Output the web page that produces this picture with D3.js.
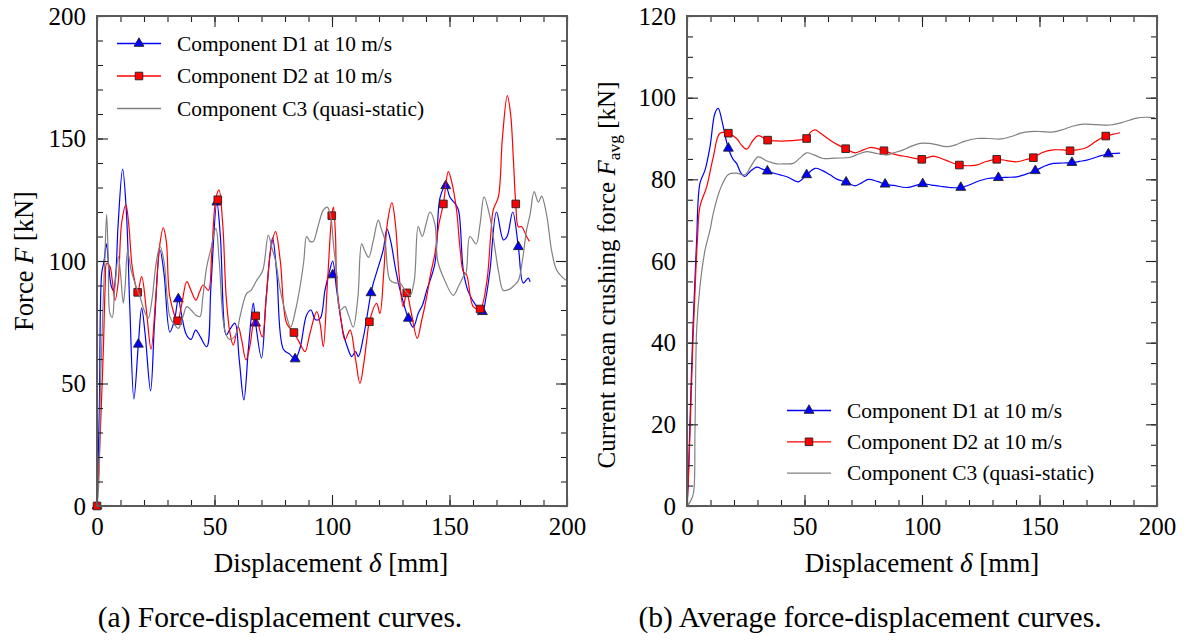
<!DOCTYPE html>
<html>
<head>
<meta charset="utf-8">
<script src="https://cdn.jsdelivr.net/npm/d3@7"></script>
<style>
body{margin:0;background:#fff}
svg text{font-family:"Liberation Serif","Times New Roman",serif;fill:#000}
</style>
</head>
<body>
<svg id="chart" width="1184" height="643"></svg>
<script>
// Panel (a): force-displacement, [displacement mm, force kN]
const forceD1 = [[0,0],[1,40],[2,95],[3,100],[4,107],[5,98],[6,90],[7,88],[8,95],[9,115],[10.9,137.5],[12.5,120],[14,80],[15.7,43.7],[17.6,66],[19,80.8],[20.5,70],[22.8,47],[24.5,75],[26.8,104.5],[28.5,95],[31,71],[33,76],[34.6,84.5],[36,78],[38,70],[40,68],[42,71.8],[44,69],[46.7,65],[48.5,90],[51,124],[52.5,110],[55,69.8],[56.5,72],[58.7,74.6],[60.5,60],[62.5,43.3],[64.5,65],[66.5,82.8],[67.5,74.6],[70,60.4],[72,85],[74.7,109.5],[76.5,95],[79.3,64],[82,62],[84.3,60],[86.4,64.5],[89.2,78],[91,80],[93,76],[95,76.6],[97,88],[99,96],[100.3,100],[102,88],[104.8,70.6],[106.5,65],[108.4,61],[110,63],[111.2,61],[113.3,68.6],[116.6,87],[117.6,91],[119.5,97],[121.8,104.5],[123.4,113],[125,108],[127,97],[129,88],[132.5,76.6],[134.6,73],[136.7,78.7],[138.5,82],[140.3,88],[143.8,99],[146,126],[148.4,130.7],[150.2,126],[152.3,123.5],[153.8,120.8],[155.9,96],[158,87.5],[161.6,81.4],[164,79.3],[165.5,85],[167.2,96],[170,120],[172.9,108.6],[174.5,110],[176.9,120],[179.3,105.8],[181.4,91],[183.5,93],[184.3,91.5]]
const forceD2 = [[0,0],[1,20],[2,45],[2.7,63.7],[3.5,90],[4.1,99],[5.5,97.7],[6.5,92],[7.7,84],[9,91],[10.5,115.5],[12.3,122.9],[13.5,115],[14.8,99],[16,92],[17.3,87.2],[19,93.6],[21,80],[23,64],[25,85],[26.5,105],[28.2,113.5],[29.5,108],[31,85.4],[34.3,75.6],[36,82],[38.2,91.6],[40,88],[42.1,84],[43.5,87],[45.2,90.2],[47.4,88],[48.8,103],[50.5,125],[51.9,129],[53.5,115],[55,85],[56.6,70.6],[58,65.7],[60.1,73.2],[61.5,68],[63.4,59.6],[65,65],[66.5,74.6],[67.5,77.6],[70.3,69],[72,85],[74,105],[76,112],[78,100],[80.7,74.6],[83.8,70.8],[86,67],[88.5,63],[90.5,70],[93.5,79.3],[95,74],[96.3,65],[98,90],[99.9,118.5],[100.6,122],[101.5,110],[102,91],[104,75],[105.5,67.8],[107.7,71.8],[110,60],[111.9,50],[113.5,58],[114.8,67.8],[115.9,75.2],[119,82.7],[120.4,78.6],[122,95],[123.5,115],[125.5,123.7],[127,115],[128.5,95],[130.3,81.4],[131.8,87],[133.5,80],[136.3,68.4],[138,75],[140.3,85.4],[142,95],[143.8,103],[145.5,115],[147.4,123.3],[149.5,136.5],[151,132],[153,120.8],[154.5,105],[155.9,95.6],[157.3,94.3],[160.1,81.4],[163,80.4],[165.8,91],[167.5,110],[168.6,120.8],[170.8,126.2],[172.5,150],[174.6,167.5],[176,160],[177.2,141.2],[178.2,123.3],[179.3,114],[180.7,114],[182.8,110],[184,108]]
const forceC3 = [[0,0],[0.8,10],[1.5,50],[2.5,80],[3.3,100],[4.1,119],[4.8,100],[5.5,78.6],[6.5,77],[7.5,88],[9.1,101.8],[10,95],[11.2,82.8],[12,90],[13,104],[14.6,96],[16.5,90],[18.3,85.4],[20,80],[21.8,76.7],[23.5,85],[25,98],[26.8,106],[28.5,100],[31,77.3],[33,74],[34.6,72.5],[36.5,77],[38.2,81.4],[40,80],[42,78],[43.8,77.3],[45,85],[46.7,97.7],[48.5,105],[50.6,113.3],[52,100],[54.5,71.2],[56.5,68],[59,69.8],[61,78],[63.7,86.8],[65.5,88],[68,92.2],[70.5,96],[72.9,110.6],[74.5,105],[76,100],[78,88],[80.7,77.3],[82.4,73],[84.5,80],[86.4,89.5],[88,100],[89.2,110],[90.6,108],[92,108],[94,114],[96.3,120.8],[98,122],[99.5,118],[100.6,107],[102,95],[103.4,80],[105.5,81.4],[107,78],[109,73],[111,85],[112.6,107],[114,104],[115.6,101.5],[117.5,108],[119.7,116.7],[121,113],[122.5,108.6],[124.7,92.2],[127,91],[129,91],[131,88],[133.2,86],[135,92],[136.7,114],[138.4,110],[140,115],[141.7,120],[143.8,115],[145,100],[148,92],[151.6,86],[154,90],[155.9,93.6],[157,95],[158.7,110],[161.3,107],[163,115],[164.7,126.2],[167.2,118],[169.5,104],[171,95],[172.9,88],[175.7,88.6],[177.5,90],[179.3,92],[181,100],[182.8,112.6],[184.3,119],[186,128.3],[187.8,124],[189.2,126.5],[191.3,119],[193.5,104],[195.6,96.3],[198.4,93],[200,92]]
const markD1 = [[0,0],[17.6,66],[34.6,84.5],[51,124],[67.5,74.6],[84.3,60],[100.3,94.3],[116.6,87],[132.5,76.6],[148.4,130.7],[164,79.3],[179.3,105.8]]
const markD2 = [[0,0],[17.3,87.2],[34.3,75.6],[51.4,125],[67.5,77.6],[83.8,70.8],[99.9,118.5],[115.9,75.2],[131.8,87],[147.4,123.3],[163,80.4],[178.2,123.3]]

// Panel (b): current mean crushing force
const avgD1 = [[0,0],[0.5,6],[1.5,25],[2.5,43],[3.5,57],[4.1,65],[5.5,79],[7.7,82.3],[9.8,88],[11.9,96.2],[13.3,97.4],[14.8,94.5],[16.5,90],[17.6,87.6],[19.5,85],[21.1,83.9],[23,81.5],[24.7,80.7],[27,82],[29.7,83],[32,82.5],[34.2,82],[37,81.5],[39.6,81.1],[43,80.5],[47.4,79.4],[50.9,81.1],[54.5,82.7],[57.5,82.2],[60.9,81.1],[64,80],[67.7,79.3],[71.5,78.4],[74.5,79.2],[77.2,80],[81,79.5],[84.3,78.8],[88,78.5],[93.5,78],[100.3,78.9],[104,78.6],[107.7,78.3],[112,78],[116.5,78],[120,78.6],[123.3,79.4],[128,80.2],[132.5,80.4],[136,80.5],[140.3,80.6],[144,81.2],[148.2,82.1],[152,83.2],[155.9,83.9],[160,84],[163.8,84.1],[167,84.4],[170.1,84.7],[175,85.6],[179.3,86.2],[184.3,86.4]]
const avgD2 = [[0,0],[0.5,5],[1.5,22],[2.5,40],[3.5,54],[4.5,66],[5.5,73.3],[8.4,78.2],[11.2,85.5],[14,91.3],[17.6,91.3],[21.1,90],[23,88.5],[25.4,87.4],[28,89.5],[30.3,90.7],[34.3,89.6],[38,89.4],[42.4,89.4],[47,89.6],[50.9,90],[52.5,91.5],[54.5,92.1],[57,91.2],[60.9,89.6],[64,88.5],[67.5,87.5],[71.5,86.5],[75,87.2],[77.9,87.8],[80.5,87.6],[83.8,87],[89.2,86],[94,85.5],[99.9,84.9],[104.8,85.7],[110,84.7],[115.9,83.5],[123.1,83.5],[127,84.3],[131.8,84.9],[136,84.6],[140.3,84.3],[144,84.8],[147.4,85.3],[151,86.5],[155.9,87.2],[160,87.2],[163,87],[166,87.2],[170.1,87.8],[174,89.3],[178.2,90.6],[181,91],[184.3,91.4]]
const avgC3 = [[0,0],[1.3,1],[2.7,3],[3.4,18.6],[4.1,43],[5.5,53.7],[7.7,62.7],[9.8,67.6],[11.2,71.7],[14,77.4],[17.6,81.2],[21.1,81.5],[24.7,81.1],[27.5,83.5],[30.3,85.5],[34,84.5],[38.2,83.8],[42,83.8],[45.2,83.9],[48,85.2],[50.9,86.5],[54,86],[58,85.1],[63,85.2],[69.4,85.4],[73,86.2],[76.5,86.8],[80,86.4],[85,86],[88,86.5],[92,87.2],[95,88],[99.1,88.8],[103,88.8],[106,88.5],[110.5,88],[115,88.6],[118,89.3],[123.3,90],[128,90],[133.9,89.9],[138,90.5],[142,91.3],[146,91.7],[151,91.7],[155.9,91.6],[160,92.2],[164,93],[168.6,93.5],[174,93.4],[180,93.3],[185,93.9],[191.4,95],[195,95.2],[199.1,95.1]]
const avgMarkD1 = [[17.6,87.6],[34.2,82],[50.9,81.1],[67.7,79.3],[84.3,78.8],[100.3,78.9],[116.5,78],[132.5,80.4],[148.2,82.1],[163.8,84.1],[179.3,86.2]]
const avgMarkD2 = [[17.6,91.3],[34.3,89.6],[50.9,90],[67.5,87.5],[83.8,87],[99.9,84.9],[115.9,83.5],[131.8,84.9],[147.4,85.3],[163,87],[178.2,90.6]]

const seriesNames = ["Component D1 at 10 m/s", "Component D2 at 10 m/s", "Component C3 (quasi-static)"]
const xTicks = [0, 50, 100, 150, 200]
const yTicksA = [0, 50, 100, 150, 200]
const yTicksB = [0, 20, 40, 60, 80, 100, 120]
const captions = ["(a) Force-displacement curves.", "(b) Average force-displacement curves."]

const svg = d3.select("#chart")
const plotTop = 16, plotBottom = 506

//Draw the box, the inward ticks and the labels of one panel
function panelAxes(g, x, y, yTicks, yMinorStep){
    const xMinor = d3.range(0, 201, 10)
    const yMax = y.domain()[1]
    const yMinor = d3.range(0, yMax + 0.01, yMinorStep)
    const [x0, x1] = x.range()

    const sides = [
        [d3.axisBottom(x), `translate(0,${plotBottom})`, xMinor, xTicks, true],
        [d3.axisTop(x), `translate(0,${plotTop})`, xMinor, xTicks, false],
        [d3.axisLeft(y), `translate(${x0},0)`, yMinor, yTicks, true],
        [d3.axisRight(y), `translate(${x1},0)`, yMinor, yTicks, false]
    ]
    sides.forEach(([ax, tr, minor, major, labels]) => {
        g.append("g").attr("transform", tr)
            .call(ax.tickValues(minor).tickSize(-6).tickFormat(""))
            .call(a => a.select(".domain").remove())
            .selectAll("line").attr("stroke", "#222").attr("stroke-width", 1.1)
        const m = g.append("g").attr("transform", tr)
            .call(ax.tickValues(major).tickSize(-11).tickPadding(11).tickFormat(labels ? d3.format("d") : ""))
            .call(a => a.select(".domain").remove())
        m.selectAll("line").attr("stroke", "#222").attr("stroke-width", 1.1)
        m.selectAll("text").attr("font-size", 25).attr("fill", "#000")
    })

    g.append("rect")
        .attr("x", x0).attr("y", plotTop)
        .attr("width", x1 - x0).attr("height", plotBottom - plotTop)
        .attr("fill", "none").attr("stroke", "#5a5a5a").attr("stroke-width", 2)
}

function drawCurve(g, data, x, y, color){
    const line = d3.line()
        .x(d => x(d[0]))
        .y(d => y(d[1]))
        .curve(d3.curveCatmullRom.alpha(0.5))
    g.append("path").datum(data)
        .attr("fill", "none").attr("stroke", color)
        .attr("stroke-width", 1.2).attr("stroke-linejoin", "round")
        .attr("d", line)
}

const triangle = d3.symbol(d3.symbolTriangle, 42)
const square = d3.symbol(d3.symbolSquare, 58)

function drawMarkers(g, data, x, y, kind){
    g.selectAll(null).data(data).enter().append("path")
        .attr("transform", d => `translate(${x(d[0])},${y(d[1])})`)
        .attr("d", kind == "tri" ? triangle : square)
        .attr("fill", kind == "tri" ? "#0000ff" : "#ff0000")
        .attr("stroke", "#222").attr("stroke-width", 0.9)
}

function legend(g, lx, ly, gap){
    const styles = [["#0000ff", "tri"], ["#ff0000", "sq"], ["#808080", null]]
    seriesNames.forEach((name, i) => {
        const yy = ly + i * gap
        g.append("line").attr("x1", lx).attr("x2", lx + 44).attr("y1", yy).attr("y2", yy)
            .attr("stroke", styles[i][0]).attr("stroke-width", 1.3)
        if(styles[i][1]){
            g.append("path").attr("transform", `translate(${lx + 22},${yy})`)
                .attr("d", styles[i][1] == "tri" ? triangle : square)
                .attr("fill", styles[i][0]).attr("stroke", "#222").attr("stroke-width", 0.9)
        }
        g.append("text").attr("x", lx + 60).attr("y", yy + 7)
            .attr("font-size", 21.4).text(name)
    })
}

// ---- panel (a)
const xa = d3.scaleLinear().domain([0, 200]).range([97, 567])
const ya = d3.scaleLinear().domain([0, 200]).range([plotBottom, plotTop])
const ga = svg.append("g")
drawCurve(ga, forceD1, xa, ya, "#0000ff")
drawMarkers(ga, markD1, xa, ya, "tri")
drawCurve(ga, forceD2, xa, ya, "#ff0000")
drawMarkers(ga, markD2, xa, ya, "sq")
drawCurve(ga, forceC3, xa, ya, "#808080")
panelAxes(ga, xa, ya, yTicksA, 10)
legend(ga, 117, 43.5, 32.5)

ga.append("text").attr("x", 331).attr("y", 572).attr("text-anchor", "middle").attr("font-size", 27)
    .call(t => { t.append("tspan").text("Displacement "); t.append("tspan").attr("font-style", "italic").text("δ"); t.append("tspan").text(" [mm]") })
ga.append("text").attr("transform", "translate(33,261) rotate(-90)").attr("text-anchor", "middle").attr("font-size", 26.5)
    .call(t => { t.append("tspan").text("Force "); t.append("tspan").attr("font-style", "italic").text("F"); t.append("tspan").text(" [kN]") })
ga.append("text").attr("x", 280).attr("y", 627).attr("text-anchor", "middle").attr("font-size", 29.5).text(captions[0])

// ---- panel (b)
const xb = d3.scaleLinear().domain([0, 200]).range([687, 1157])
const yb = d3.scaleLinear().domain([0, 120]).range([plotBottom, plotTop])
const gb = svg.append("g")
drawCurve(gb, avgD1, xb, yb, "#0000ff")
drawMarkers(gb, avgMarkD1, xb, yb, "tri")
drawCurve(gb, avgD2, xb, yb, "#ff0000")
drawMarkers(gb, avgMarkD2, xb, yb, "sq")
drawCurve(gb, avgC3, xb, yb, "#808080")
panelAxes(gb, xb, yb, yTicksB, 5)
legend(gb, 787, 410.5, 31.3)

gb.append("text").attr("x", 922).attr("y", 572).attr("text-anchor", "middle").attr("font-size", 27)
    .call(t => { t.append("tspan").text("Displacement "); t.append("tspan").attr("font-style", "italic").text("δ"); t.append("tspan").text(" [mm]") })
gb.append("text").attr("transform", "translate(615,275) rotate(-90)").attr("text-anchor", "middle").attr("font-size", 25)
    .call(t => {
        t.append("tspan").text("Current mean crushing force ")
        t.append("tspan").attr("font-style", "italic").text("F")
        t.append("tspan").attr("font-size", 17.5).attr("dy", 5).text("avg")
        t.append("tspan").attr("dy", -5).text(" [kN]")
    })
gb.append("text").attr("x", 870).attr("y", 627).attr("text-anchor", "middle").attr("font-size", 29.5).text(captions[1])
</script>
</body>
</html>
